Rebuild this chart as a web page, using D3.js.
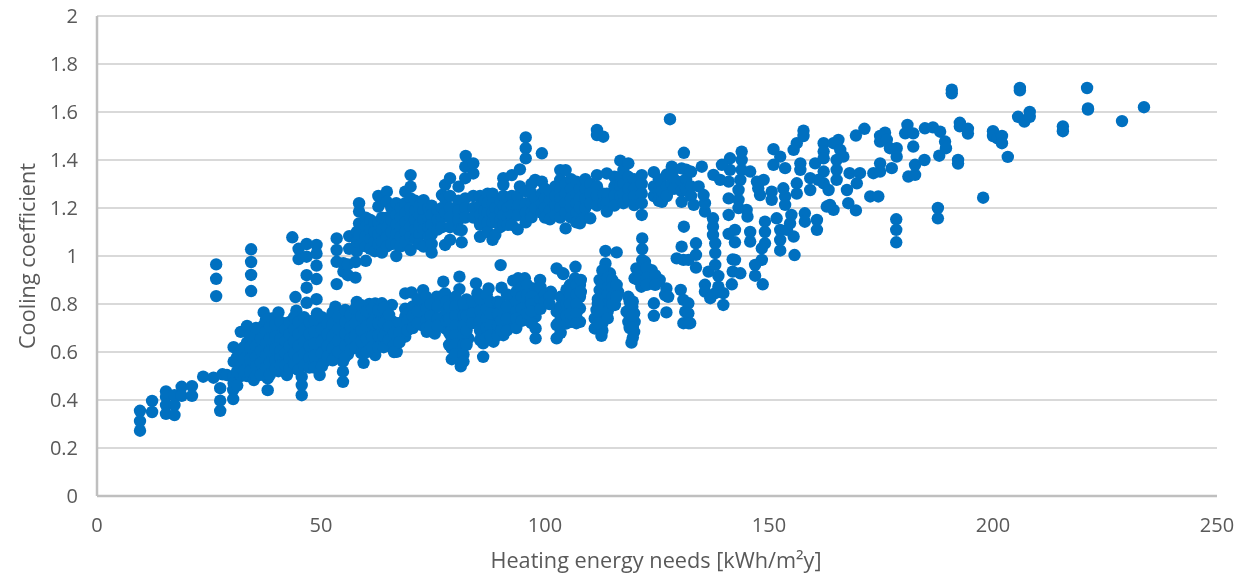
<!DOCTYPE html>
<html><head><meta charset="utf-8">
<script src="https://cdn.jsdelivr.net/npm/d3@7/dist/d3.min.js"></script>
<style>html,body{margin:0;padding:0;background:#fff}svg{display:block;filter:blur(0.5px)}text{font-family:"Open Sans",sans-serif;fill:#595959}</style>
</head><body><div id="c"></div>
<script>
const xLabel = "Heating energy needs [kWh/m²y]";
const yLabel = "Cooling coefficient";
const xTicks = [0,50,100,150,200,250];
const yTicks = [0,0.2,0.4,0.6,0.8,1,1.2,1.4,1.6,1.8,2];

// each row: heating value, then the cooling values read at that heating value
const lowEnd = [
[9.6,.355,.312,.272],[12.3,.396,.35],[15.4,.436,.414,.379,.342],[17.3,.42,.379,.337],[18.9,.455,.417],[21.2,.458,.417],
[23.7,.497],[26,.493],[28,.507],[27.5,.449,.397,.355],[30.4,.442,.404],[26.6,.965,.905,.833],[34.4,1.028,.975,.921,.854]
];
const lowerLeft = [
[29,.504],[30.5,.62,.56,.5,.47],[32.1,.684,.6,.54,.5],[33.5,.709,.64,.59,.54,.5],[35,.65,.6,.56,.52,.483],
[36,.68,.63,.58,.53],[37.2,.765,.712,.66,.61,.56,.51],[38.1,.68,.63,.58,.53,.49,.441],[39,.74,.69,.64,.59,.54,.52],
[40.5,.765,.7,.65,.6,.55,.52],[41.5,.68,.63,.58,.53],[42.4,.72,.66,.61,.56,.504],[43.4,.7,.65,.6,.55],
[44.5,.772,.72,.67,.62,.57,.53],[45.7,.7,.65,.6,.55,.497,.462,.42],[46.8,.72,.67,.62,.57],[47.9,.7,.65,.6,.55],
[49.1,.761,.7,.65,.6,.55],[49.7,.72,.67,.62,.57,.504],[50.8,.7,.65,.6,.56],[52,.74,.69,.64,.59],
[53.2,.789,.73,.68,.63,.58],[54.9,.75,.7,.65,.6,.56,.518,.476],[56,.73,.68,.63,.59],[57,.76,.7,.64],[58,.809,.74,.68,.63],
[59.5,.78,.72,.66,.62,.555],[60.8,.8,.74,.68,.63],[62.1,.802,.75,.7,.65,.587],[63.6,.803,.74,.69,.64],[64.7,.76,.692,.64],
[65.8,.796,.73,.678,.62],[66.9,.72,.65,.601]
];
const lowerLeftExtra = [
[31.3,.58,.52,.46],[32.8,.62,.57,.52],[34.2,.67,.62,.57,.52],[35.5,.7,.625,.58,.54,.5],[36.6,.655,.605,.555,.505],[37.7,.735,.685,.635,.585,.535],
[38.6,.705,.655,.605,.555,.505],[39.8,.715,.665,.615,.565,.53],[41,.725,.655,.605,.575,.545],[42,.695,.645,.595,.545],[43,.725,.675,.625,.575,.53],
[44,.745,.695,.645,.595,.55],[45,.725,.675,.625,.575,.525],[46.2,.745,.695,.645,.595,.545],[47.4,.725,.675,.625,.575,.535],[48.5,.735,.685,.635,.585,.535],
[50.2,.745,.695,.645,.595,.54],[51.4,.715,.675,.625,.58],[52.6,.765,.715,.665,.615,.565],[53.8,.745,.695,.645,.6],[55.4,.775,.725,.675,.625,.58],
[56.6,.755,.705,.655,.61],[57.6,.78,.72,.665,.62],[59,.795,.75,.69,.645,.595],[60.2,.77,.71,.655,.6],[61.4,.78,.72,.665,.62],[62.8,.775,.72,.67,.62],
[64,.785,.72,.665,.62],[65.2,.755,.705,.65],[66.3,.68,.63,.6]
];
const lowerMiddle = [
[68.8,.844,.78,.747,.664],[69.9,.712],[68.4,.664],[70.2,.848],[72.8,.858,.81,.754],[72.5,.712],[73.6,.684],[75.4,.677],[75.1,.775],[76.6,.83],[75.8,.83],[77.7,.844,.698],
[77.3,.893,.747],[79.5,.81,.76],[80.9,.914,.862],[82.5,.819],[79.2,.705,.657,.615,.57],[81.2,.54],[81.4,.573],[81,.775,.733,.691,.65,.608],[82.9,.775,.72,.657],
[84.6,.886],[84.9,.844],[87.4,.865],[90.1,.962],[90.3,.868],[92.9,.897],[94,.907,.858],[95.5,.907],[98.9,.9],[97.4,.865],[101.3,.851],[102.6,.948,.768,.712,.657],[104.1,.925,.83],
[86.2,.712,.636,.58],[85.9,.67],[86.6,.795,.754],[85.1,.8],[88.5,.733,.684,.643],[88.8,.789],[90.7,.754,.67],[91,.775,.712],[92.6,.816,.712],[92.9,.754],
[95.2,.802,.754],[96.3,.733],[97.9,.747,.698,.657],[98.5,.844,.802],[96.6,.789],[100.4,.823],[104.8,.775,.719],[104.5,.83],
[106.8,.955],[104,.928],[106.7,.907,.74],[107.8,.879,.83,.782,.726],[106.3,.858],[105.2,.823,.782],[105.9,.726],[102.9,.719],
[113.5,1.021,.969],[116,1.015],[114.5,.928,.83],[112.2,.9,.858,.712],[113.4,.9,.858,.816],[115.2,.886],[116.3,.851],[115.6,.796],[111.5,.775],[111.1,.74,.698],[111.9,.754],[112.6,.667],
[118.6,.83,.726],[119.5,.789],[118.2,.768],[119.9,.761,.684],[120,.726],[119.3,.639],[121.7,1.073,1.029,.983],[120.4,.948],[122.3,.976],[120,.907],[123.8,.941],[121.9,.928],[121.5,.872],[123.4,.893],
[125.6,.9],[127.1,.865,.765],[126.8,.837],[127.5,.83],[124.3,.803,.751],[130.3,.859],[130.9,.817,.72],[131.3,.768],[132,.803,.761,.72],[132.4,.72]
];
const lowerMiddleExtra = [
[67.5,.72,.68,.64],[69.3,.76,.73,.69],[70.5,.79,.75,.7],[71.6,.82,.77,.72],[73.5,.83,.78,.73,.7],[74.5,.8,.75,.71],[76,.79,.74,.71],[78,.81,.77,.73],
[78.6,.79,.74,.68,.63],[80,.83,.79,.75,.71,.67,.63,.59],[81.8,.8,.75,.71,.67,.63,.59,.56],[82.5,.75,.69,.63],[83.8,.81,.76,.72],[85.5,.82,.77,.73,.69,.65],
[87,.84,.78,.74,.7,.66],[87.8,.81,.76,.71,.67],[89.5,.81,.76,.71,.67],[90.2,.8,.73,.69],[91.5,.84,.79,.74,.69],[93.6,.85,.81,.77,.74,.7],[94.8,.87,.83,.78,.73],
[96,.88,.84,.76],[97,.83,.8,.77,.72],[99,.87,.82,.78],[100,.84,.81],[101,.83,.8],[103.5,.83,.79,.75,.71,.68],[104.8,.86,.8,.75],[105.6,.88,.84,.8,.76],
[107,.88,.84,.8,.76,.72],[108,.9,.85],[112.8,.94,.88,.84,.8,.76,.72,.69],[114,.91,.87,.84,.8,.77,.74],[115,.9,.87,.83,.8],[116,.88,.83],[111.8,.82,.8,.77,.72],
[118.9,.81,.78,.75,.7],[119.6,.81,.75,.7,.66],[120.8,.93,.9],[122.7,.95,.91,.88],[124.6,.92,.88]
];
const upperBand = [
[43.6,1.078],[45,1.03,.987],[46.8,1.05,.997,.92,.868,.805],[49,1.046,1.01,.96,.904,.82],[44.3,.829],[53.5,1.073,1.025,.976,.883],[55,.935,.97],[56,.92,.965],
[57.7,.975,.91],[56.3,1.083,1.03],[58,1.02,1.06,1.1],[58.5,1.22,1.185,1.136,1.09],[60,1.16,1.12,1.08,1.04,.98],[61,1.15,1.11,1.07,1.03],[62,1.14,1.1,1.06,1.02],[62.8,1.25,1.206,1.14,1.09,1.05],
[63.6,1.16,1.11,1.06,1.014],[64.7,1.268,1.226,1.16,1.12,1.08,1.04],[65.7,1.2,1.15,1.1,1.05],[66.8,1.22,1.17,1.13,1.09,1.05,1],[67.8,1.2,1.16,1.12,1.08,1.04],
[68.8,1.268,1.22,1.18,1.14,1.1,1.06],[70,1.337,1.289,1.24,1.2,1.16,1.12,1.08,1.025],[71,1.23,1.19,1.15,1.11,1.07],[72,1.21,1.17,1.13,1.09,1.05],[72.9,1.233,1.19,1.15,1.11,1.039],
[74,1.2,1.16,1.12,1.08],[74.7,1.21,1.17,1.13,1.09,1.05,1.014],[76,1.19,1.15,1.11],[77,1.254,1.2,1.16,1.12],[77.7,1.296,1.24,1.18,1.046],[78.8,1.324,1.25,1.2,1.16,1.12,1.067],
[80.7,1.289,1.23,1.19,1.15,1.11],[81.4,1.108,1.057],[82.2,1.372,1.324,1.24,1.2,1.16],[82.3,1.417],[84,1.386,1.344,1.25,1.2,1.16],[85.5,1.25,1.21,1.17,1.13,1.08],
[86.5,1.23,1.19,1.15],[87.2,1.26,1.22,1.18,1.14,1.1],[88.3,1.26,1.22,1.18,1.14,1.067],[88.9,1.2,1.16,1.088],[90,1.23,1.19,1.15,1.12],[90.7,1.324,1.296,1.25,1.21,1.17,1.13],[91.7,1.24,1.2,1.16,1.13],[92.6,1.337,1.25,1.21,1.17,1.13],[93.9,1.25,1.21,1.17,1.111],
[94.4,1.361,1.29],[95.7,1.494,1.449,1.407,1.27,1.22,1.18,1.14],[97,1.3,1.26,1.22,1.18,1.161],[97.8,1.317,1.24,1.2],[99.3,1.428,1.31,1.26,1.22,1.18],[100,1.28,1.24,1.2,1.16],[101.1,1.27,1.23,1.19,1.153],
[102.3,1.29,1.25,1.21,1.17],[103.4,1.358,1.317,1.28,1.24,1.2,1.16],[104.6,1.358,1.3,1.26,1.22,1.18,1.115],[105.8,1.32,1.28,1.24,1.2,1.16],[107,1.31,1.26,1.22,1.18,1.14],[107.8,1.28,1.24,1.2,1.136],
[109,1.32,1.28,1.24,1.2,1.16],[110.1,1.3,1.26,1.22,1.157],[111.6,1.525,1.504,1.337,1.29,1.25,1.21],[113,1.497,1.26,1.22],[113.8,1.344,1.26,1.22,1.185],[115.5,1.33,1.29,1.25,1.21],
[116.8,1.397,1.33,1.29,1.25],[117.5,1.358,1.3,1.26,1.22],[118.6,1.386,1.33,1.28,1.24],[119.9,1.32,1.28,1.25,1.212],[121.6,1.337,1.3,1.26,1.22,1.171],[124.3,1.349,1.29,1.25],[125.4,1.32,1.27,1.23],
[126.1,1.3,1.27,1.226],[127.2,1.34,1.29,1.25],[128.3,1.372,1.33,1.3],[128.8,1.36,1.32,1.28],[130.5,1.365,1.31,1.27,1.226],[131.5,1.36,1.32,1.28],[132.6,1.351,1.29,1.25],[133.2,1.213],[134.3,1.29]
];
const rightBand = [
[127.9,1.57],[131,1.43,1.122],[135,1.372],[130.5,1.039],[133.7,1.053,1.005,.952],[129.4,.99],[130.9,.984],[132,.984],[136.5,.935],[138.7,.917,.872],[138,.963,1.012,1.053,.845],
[137.5,1.088,1.122,1.157],[135.7,1.185,1.22,.88,.852],[135.4,1.254],[136.9,.824],[139.8,.845,.796],[141.7,.882],[141.9,.935,.986],[143.6,.928],[142.4,.984,1.109,1.057],[141,1.092,1.171,1.24,1.31],
[143.2,1.234,1.2,1.275],[145,1.192],[145.2,1.164],[143.6,1.317],[143.9,1.359,1.4,1.435],[141.3,1.407,1.359],[139.5,1.38],[137.6,1.338],[139.1,1.317],[145.8,1.352,1.1,1.06],
[147.3,1.31],[148.8,1.317],[148,1.254],[147.6,1.282],[149.1,1.143,1.1,1.053],[148.4,1.032,.984],[146.9,.963,.918],[148.6,.882],[151.7,1.157],[152.5,1.109,1.067,1.023,1.414],
[150.6,1.268,1.234],[151,1.445,1.38],[153.6,1.366,1.248,1.213],[153.2,1.282],[155,1.171],[154.7,1.136],[155.5,1.081,1.442],[154,1.109],[155.7,1.004],[156.2,1.47,1.303,1.26],[157,1.386,1.359],
[157.7,1.522,1.5],[158,1.178,1.143],[160.7,1.15,1.109],[159.2,1.324,1.275],[160.3,1.386],[162.2,1.352,1.303,1.47,1.435,1.407],[163.3,1.275],[161,1.317],[165.5,1.484],[164.4,1.47,1.192],[165.9,1.442],[166.6,1.414],
[165.1,1.4,1.359,1.317],[163.6,1.213],[162.9,1.206],[167.7,1.22],[169.4,1.19,1.502],[168,1.345],[169.6,1.303],[167.4,1.275],[170.3,1.345],[171.3,1.53],[172.6,1.248],[174.4,1.248],[173.3,1.345],
[174.8,1.386,1.352,1.5,1.477],[175.9,1.514],[176.3,1.484],[177,1.449],[178.5,1.449,1.414],[177.4,1.366],[178.4,1.153,1.109,1.057],[180.9,1.546],[180.4,1.511],[182.2,1.511,1.456],[181.1,1.331],
[182.6,1.338,1.38],[184.7,1.4],[184.8,1.532],[186.6,1.536],[188.2,1.518],[189.3,1.477],[189.5,1.449],[188,1.418],[187.7,1.2,1.157],[190.8,1.693,1.678],[192.6,1.555,1.54],[192.2,1.4,1.385],[194.4,1.53,1.51],
[197.8,1.243],[200,1.52,1.5],[201,1.49],[202,1.5,1.47],[203.3,1.413],[206,1.7,1.69],[205.6,1.58],[207,1.56],[208.2,1.6,1.58],[215.6,1.54,1.52],[221,1.7],[221.2,1.615,1.61],[228.8,1.562],[233.7,1.62]
];

const W=1253,H=577,L=97,R=1217,T=16,B=496;
const svg=d3.select("#c").append("svg").attr("width",W).attr("height",H);
const x=d3.scaleLinear().domain([0,250]).range([L,R]);
const y=d3.scaleLinear().domain([0,2]).range([B,T]);
const blue="#0070c0";
svg.append("g").selectAll("line").data(yTicks.slice(1)).join("line")
 .attr("x1",L).attr("x2",R).attr("y1",d=>y(d)).attr("y2",d=>y(d)).attr("stroke","#d9d9d9").attr("stroke-width",2);
svg.append("line").attr("x1",L).attr("x2",L).attr("y1",T).attr("y2",B).attr("stroke","#bfbfbf").attr("stroke-width",2.5);
svg.append("line").attr("x1",L).attr("x2",R).attr("y1",B).attr("y2",B).attr("stroke","#bfbfbf").attr("stroke-width",2.5);
const pts=[lowEnd,lowerLeft,lowerLeftExtra,lowerMiddle,lowerMiddleExtra,upperBand,rightBand].flat().flatMap(r=>r.slice(1).map(v=>[r[0],v]));
svg.append("g").selectAll("circle").data(pts).join("circle")
 .attr("cx",d=>x(d[0])).attr("cy",d=>y(d[1])).attr("r",6.2).attr("fill",blue);
svg.append("g").selectAll("text").data(yTicks).join("text").attr("x",78).attr("y",d=>y(d)+7)
 .attr("text-anchor","end").attr("font-size",20).text(d=>d);
svg.append("g").selectAll("text").data(xTicks).join("text").attr("x",d=>x(d)).attr("y",B+36)
 .attr("text-anchor","middle").attr("font-size",20).text(d=>d);
svg.append("text").attr("x",656).attr("y",568).attr("text-anchor","middle").attr("font-size",21.7).text(xLabel);
svg.append("text").attr("transform","translate(35,256) rotate(-90)").attr("text-anchor","middle").attr("font-size",21.7).text(yLabel);
</script></body></html>
